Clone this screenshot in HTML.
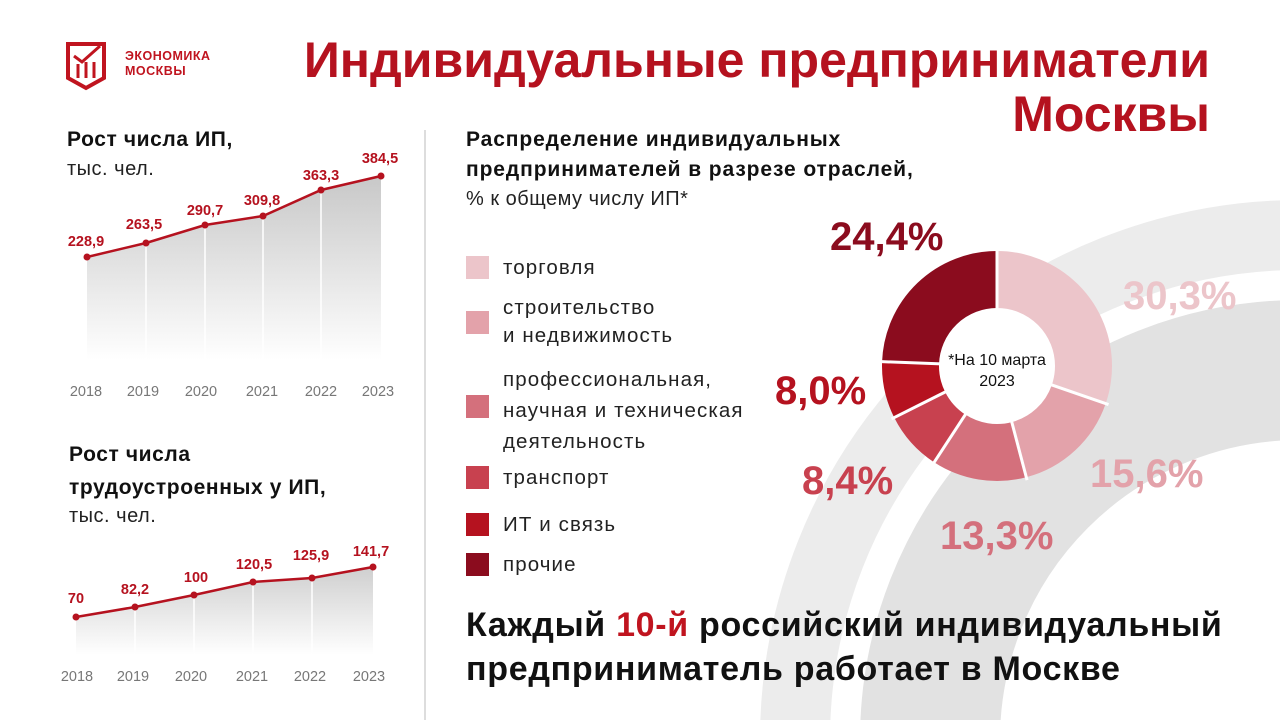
<!DOCTYPE html>
<html><head><meta charset="utf-8"><style>
html,body{margin:0;width:1280px;height:720px;overflow:hidden}
body{background:#fff;font-family:"Liberation Sans","DejaVu Sans",sans-serif;position:relative}
.a{position:absolute;white-space:nowrap}
.t{color:#b5121f;font-weight:bold;font-size:50px;right:70px;text-align:right;line-height:56px;letter-spacing:0px}
.h{font-weight:bold;font-size:21px;color:#111;line-height:30px;letter-spacing:0.6px}
.s{font-size:20px;color:#222;letter-spacing:0.5px}
.lg{position:absolute;left:466px;width:23px;height:23px}
.lt{position:absolute;left:503px;font-size:20.5px;color:#222;line-height:28px;letter-spacing:1.1px}
.p{font-weight:bold;font-size:40px}
</style></head><body>
<svg class="a" style="left:0;top:0" width="1280" height="720">
<circle cx="1300" cy="740" r="505" fill="none" stroke="#ececec" stroke-width="70"/>
<circle cx="1300" cy="740" r="370" fill="none" stroke="#e2e2e2" stroke-width="140"/>
<line x1="425" y1="130" x2="425" y2="720" stroke="#ddd" stroke-width="2"/>
<defs><linearGradient id="g" x1="0" y1="0" x2="0" y2="1"><stop offset="0" stop-color="#c8c8c8"/><stop offset="1" stop-color="#fff"/></linearGradient>
<linearGradient id="g2" x1="0" y1="0" x2="0" y2="1"><stop offset="0" stop-color="#cfcfcf"/><stop offset="1" stop-color="#fff"/></linearGradient></defs>
<polygon points="87,257 146,243 205,225 263,216 321,190 381,176 381,360 87,360" fill="url(#g)"/>
<g stroke="#fff" stroke-width="1.5"><line x1="146" y1="243" x2="146" y2="360"/><line x1="205" y1="225" x2="205" y2="360"/><line x1="263" y1="216" x2="263" y2="360"/><line x1="321" y1="190" x2="321" y2="360"/></g>
<polyline points="87,257 146,243 205,225 263,216 321,190 381,176" fill="none" stroke="#b5121f" stroke-width="2.5"/>
<g fill="#b5121f"><circle cx="87" cy="257" r="3.5"/><circle cx="146" cy="243" r="3.5"/><circle cx="205" cy="225" r="3.5"/><circle cx="263" cy="216" r="3.5"/><circle cx="321" cy="190" r="3.5"/><circle cx="381" cy="176" r="3.5"/></g>
<polygon points="76,617 135,607 194,595 253,582 312,578 373,567 373,655 76,655" fill="url(#g2)"/>
<g stroke="#fff" stroke-width="1.5"><line x1="135" y1="607" x2="135" y2="655"/><line x1="194" y1="595" x2="194" y2="655"/><line x1="253" y1="582" x2="253" y2="655"/><line x1="312" y1="578" x2="312" y2="655"/></g>
<polyline points="76,617 135,607 194,595 253,582 312,578 373,567" fill="none" stroke="#b5121f" stroke-width="2.5"/>
<g fill="#b5121f"><circle cx="76" cy="617" r="3.5"/><circle cx="135" cy="607" r="3.5"/><circle cx="194" cy="595" r="3.5"/><circle cx="253" cy="582" r="3.5"/><circle cx="312" cy="578" r="3.5"/><circle cx="373" cy="567" r="3.5"/></g>
<g font-family="Liberation Sans,sans-serif" font-weight="bold" font-size="14.5" fill="#b5121f" text-anchor="middle">
<text x="86" y="246">228,9</text><text x="144" y="229">263,5</text><text x="205" y="215">290,7</text><text x="262" y="205">309,8</text><text x="321" y="180">363,3</text><text x="380" y="163">384,5</text>
<text x="76" y="603">70</text><text x="135" y="594">82,2</text><text x="196" y="582">100</text><text x="254" y="569">120,5</text><text x="311" y="560">125,9</text><text x="371" y="556">141,7</text></g>
<g font-family="Liberation Sans,sans-serif" font-size="14.5" fill="#777" text-anchor="middle">
<text x="86" y="396">2018</text><text x="143" y="396">2019</text><text x="201" y="396">2020</text><text x="262" y="396">2021</text><text x="321" y="396">2022</text><text x="378" y="396">2023</text>
<text x="77" y="681">2018</text><text x="133" y="681">2019</text><text x="191" y="681">2020</text><text x="252" y="681">2021</text><text x="310" y="681">2022</text><text x="369" y="681">2023</text></g>
<circle cx="997" cy="366" r="59" fill="#fff"/>
<g transform="translate(997,366) rotate(-90)" fill="none" stroke-width="57">
<circle r="86.5" stroke="#ecc5ca" stroke-dasharray="164.7 1000" transform="rotate(0)"/>
<circle r="86.5" stroke="#e3a2aa" stroke-dasharray="84.8 1000" transform="rotate(109.08)"/>
<circle r="86.5" stroke="#d4707c" stroke-dasharray="72.3 1000" transform="rotate(165.24)"/>
<circle r="86.5" stroke="#c8414f" stroke-dasharray="45.7 1000" transform="rotate(213.12)"/>
<circle r="86.5" stroke="#b5121f" stroke-dasharray="43.5 1000" transform="rotate(243.36)"/>
<circle r="86.5" stroke="#8b0c1e" stroke-dasharray="132.6 1000" transform="rotate(272.16)"/>
<g stroke="#fff" stroke-width="3"><line x1="56" x2="118" transform="rotate(0)"/><line x1="56" x2="118" transform="rotate(109.08)"/><line x1="56" x2="118" transform="rotate(165.24)"/><line x1="56" x2="118" transform="rotate(213.12)"/><line x1="56" x2="118" transform="rotate(243.36)"/><line x1="56" x2="118" transform="rotate(272.16)"/></g>
</g>
<g fill="none" stroke="#c0141f" stroke-width="4"><path d="M68,44 H104 V78 L86,88 L68,78 Z"/></g>
<g stroke="#c0141f" stroke-width="3"><line x1="78" y1="64" x2="78" y2="78"/><line x1="86" y1="62" x2="86" y2="78"/><line x1="94" y1="62" x2="94" y2="78"/><polyline points="74,56 82,62 100,46" fill="none"/></g>
</svg>
<div class="a" style="left:125px;top:49px;color:#c0141f;font-weight:bold;font-size:12.5px;line-height:15px;letter-spacing:0.5px">ЭКОНОМИКА<br>МОСКВЫ</div>
<div class="a t" style="top:32px">Индивидуальные предприниматели</div>
<div class="a t" style="top:86px">Москвы</div>
<div class="a h" style="left:67px;top:125px">Рост числа ИП,</div>
<div class="a s" style="left:67px;top:158px">тыс. чел.</div>
<div class="a h" style="left:69px;top:438px;line-height:33px">Рост числа<br>трудоустроенных у ИП,</div>
<div class="a s" style="left:69px;top:505px">тыс. чел.</div>
<div class="a h" style="left:466px;top:125px;line-height:30px;letter-spacing:0.9px">Распределение индивидуальных<br>предпринимателей в разрезе отраслей,</div>
<div class="a s" style="left:466px;top:188px">% к общему числу ИП*</div>
<div class="lg" style="top:256px;background:#ecc5ca"></div><div class="lt" style="top:254px">торговля</div>
<div class="lg" style="top:311px;background:#e3a2aa"></div><div class="lt" style="top:294px">строительство<br>и недвижимость</div>
<div class="lg" style="top:395px;background:#d4707c"></div><div class="lt" style="top:364px;line-height:31px">профессиональная,<br>научная и техническая<br>деятельность</div>
<div class="lg" style="top:466px;background:#c8414f"></div><div class="lt" style="top:464px">транспорт</div>
<div class="lg" style="top:513px;background:#b5121f"></div><div class="lt" style="top:511px">ИТ и связь</div>
<div class="lg" style="top:553px;background:#8b0c1e"></div><div class="lt" style="top:551px">прочие</div>
<div class="a" style="left:940px;top:350px;width:114px;text-align:center;font-size:16px;color:#111;line-height:21px">*На 10 марта<br>2023</div>
<div class="a p" style="left:830px;top:215px;color:#8b0c1e">24,4%</div>
<div class="a p" style="left:1123px;top:274px;color:#ecc5ca">30,3%</div>
<div class="a p" style="left:775px;top:369px;color:#b5121f">8,0%</div>
<div class="a p" style="left:802px;top:459px;color:#c8414f">8,4%</div>
<div class="a p" style="left:1090px;top:452px;color:#e3a2aa">15,6%</div>
<div class="a p" style="left:940px;top:514px;color:#d4707c">13,3%</div>
<div class="a" style="left:466px;top:603px;font-weight:bold;font-size:34px;line-height:44px;color:#111;letter-spacing:0.7px">Каждый <span style="color:#c0141f">10-й</span> российский индивидуальный<br>предприниматель работает в Москве</div>
</body></html>
